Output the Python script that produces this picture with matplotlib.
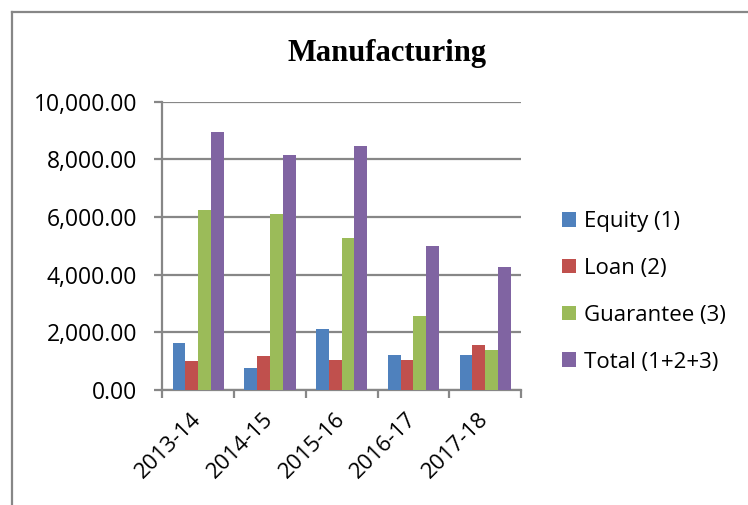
import numpy as np
import matplotlib.pyplot as plt
from matplotlib.lines import Line2D
from matplotlib.patches import Patch
from matplotlib.ticker import FuncFormatter

# Manufacturing support by year (values in the chart's units)
years = ['2013-14', '2014-15', '2015-16', '2016-17', '2017-18']
equity = [1610, 760, 2110, 1200, 1200]
loan = [980, 1170, 1030, 1030, 1560]
guarantee = [6240, 6100, 5260, 2560, 1390]
total = [8970, 8170, 8470, 4980, 4270]

series = [equity, loan, guarantee, total]
labels = ['Equity (1)', 'Loan (2)', 'Guarantee (3)', 'Total (1+2+3)']
colors = ['#4F81BD', '#C0504D', '#9BBB59', '#8064A2']

GRID = '#878787'
plt.rcParams['font.family'] = ['Open Sans', 'DejaVu Sans']

fig = plt.figure(figsize=(7.48, 5.05), dpi=100)
ax = fig.add_axes([0.2170, 0.2283, 0.4797, 0.5700])

x = np.arange(len(years))
bw = 0.178
for i, (vals, c) in enumerate(zip(series, colors)):
    ax.bar(x + (i - 1.5) * bw, vals, width=bw, color=c, zorder=3)

ax.set_xlim(-0.5, len(years) - 0.5)
ax.set_ylim(0, 10000)
ax.set_yticks(np.arange(0, 10001, 2000))
ax.yaxis.set_major_formatter(FuncFormatter(lambda v, p: f'{v:,.2f}'))
ax.grid(axis='y', color=GRID, linewidth=1.6, zorder=0)

# category labels at centres, tick marks at the boundaries
ax.set_xticks(x)
ax.set_xticklabels(years, rotation=45, ha='right', va='center',
                   rotation_mode='anchor')
ax.set_xticks(np.arange(-0.5, len(years)), minor=True)
ax.tick_params(axis='x', which='major', length=0, pad=19, labelsize=16)
ax.tick_params(axis='x', which='minor', length=6, width=1.6, color=GRID)
ax.tick_params(axis='y', length=6, width=1.6, color=GRID, labelsize=16.5,
               pad=12)

for side in ('top', 'right'):
    ax.spines[side].set_visible(False)
for side in ('left', 'bottom'):
    ax.spines[side].set_color(GRID)
    ax.spines[side].set_linewidth(1.6)

fig.text(0.518, 0.879, 'Manufacturing', ha='center', va='baseline',
         fontsize=22, fontweight='bold', family='Liberation Serif')

handles = [Patch(facecolor=c, label=l) for c, l in zip(colors, labels)]
fig.legend(handles=handles, loc='center left', bbox_to_anchor=(0.752, 0.422),
           frameon=False, fontsize=16, borderpad=0, borderaxespad=0,
           handlelength=0.63, handleheight=0.63, handletextpad=0.35,
           labelspacing=1.16)

# outer chart frame (left and top edges)
fig.add_artist(Line2D([12 / 748, 12 / 748], [0, 1 - 12 / 505],
                      color=GRID, linewidth=1.6))
fig.add_artist(Line2D([12 / 748, 1], [1 - 12 / 505, 1 - 12 / 505],
                      color=GRID, linewidth=1.6))

fig.savefig('out.png', dpi=100)
